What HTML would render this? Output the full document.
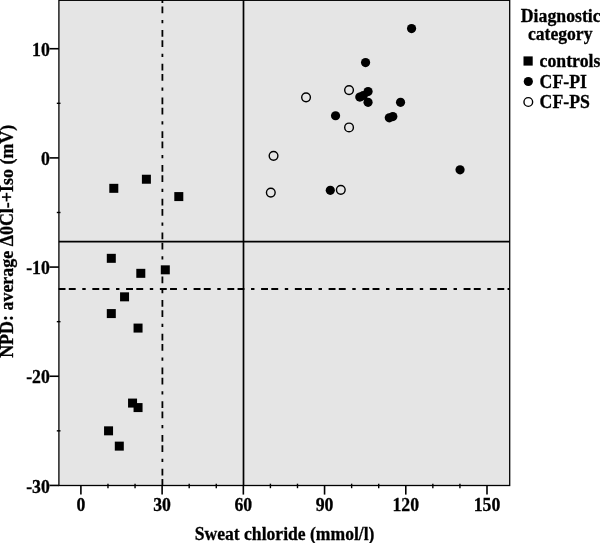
<!DOCTYPE html>
<html><head><meta charset="utf-8"><title>Scatter plot</title>
<style>
html,body{margin:0;padding:0;background:#fff;}
svg{display:block;}
text{font-family:"Liberation Serif","Times New Roman",serif;font-weight:bold;fill:#000;stroke:#000;stroke-width:0.3px;}
</style></head><body>
<svg width="600" height="543" viewBox="0 0 600 543">
<rect x="0" y="0" width="600" height="543" fill="#fff"/>
<rect x="58.9" y="0.3" width="450.8" height="485.2" fill="#e5e5e5" stroke="#000" stroke-width="1.3"/>
<line x1="243.5" y1="0.3" x2="243.5" y2="485.5" stroke="#000" stroke-width="1.7"/>
<line x1="58.9" y1="241.6" x2="509.7" y2="241.6" stroke="#000" stroke-width="1.7"/>
<line x1="58.6" y1="289.0" x2="509.7" y2="289.0" stroke="#000" stroke-width="1.8" stroke-dasharray="6.9 3.3 6.9 6.6 3.4 6.65"/>
<line x1="162.4" y1="-3.8" x2="162.4" y2="485.5" stroke="#000" stroke-width="1.8" stroke-dasharray="6.9 3.3 6.9 6.6 3.4 6.65"/>
<line x1="49.5" y1="485.43" x2="58.9" y2="485.43" stroke="#000" stroke-width="1.6"/>
<text transform="translate(49.80 492.63) scale(0.9492 1)" font-size="18.7" text-anchor="end">-30</text>
<line x1="56.8" y1="430.84" x2="60.5" y2="430.84" stroke="#000" stroke-width="1.4"/>
<line x1="49.5" y1="376.25" x2="58.9" y2="376.25" stroke="#000" stroke-width="1.6"/>
<text transform="translate(49.80 383.45) scale(0.9492 1)" font-size="18.7" text-anchor="end">-20</text>
<line x1="56.8" y1="321.66" x2="60.5" y2="321.66" stroke="#000" stroke-width="1.4"/>
<line x1="49.5" y1="267.08" x2="58.9" y2="267.08" stroke="#000" stroke-width="1.6"/>
<text transform="translate(49.80 274.28) scale(0.9492 1)" font-size="18.7" text-anchor="end">-10</text>
<line x1="56.8" y1="212.49" x2="60.5" y2="212.49" stroke="#000" stroke-width="1.4"/>
<line x1="49.5" y1="157.90" x2="58.9" y2="157.90" stroke="#000" stroke-width="1.6"/>
<text transform="translate(49.80 165.10) scale(0.9492 1)" font-size="18.7" text-anchor="end">0</text>
<line x1="56.8" y1="103.31" x2="60.5" y2="103.31" stroke="#000" stroke-width="1.4"/>
<line x1="49.5" y1="48.72" x2="58.9" y2="48.72" stroke="#000" stroke-width="1.6"/>
<text transform="translate(49.80 55.92) scale(0.9492 1)" font-size="18.7" text-anchor="end">10</text>
<line x1="80.90" y1="485.5" x2="80.90" y2="494.6" stroke="#000" stroke-width="1.6"/>
<text transform="translate(80.90 510.60) scale(0.9492 1)" font-size="18.7" text-anchor="middle">0</text>
<line x1="107.97" y1="483.7" x2="107.97" y2="488.2" stroke="#000" stroke-width="1.4"/>
<line x1="135.05" y1="483.7" x2="135.05" y2="488.2" stroke="#000" stroke-width="1.4"/>
<line x1="162.12" y1="485.5" x2="162.12" y2="494.6" stroke="#000" stroke-width="1.6"/>
<text transform="translate(162.12 510.60) scale(0.9492 1)" font-size="18.7" text-anchor="middle">30</text>
<line x1="189.19" y1="483.7" x2="189.19" y2="488.2" stroke="#000" stroke-width="1.4"/>
<line x1="216.27" y1="483.7" x2="216.27" y2="488.2" stroke="#000" stroke-width="1.4"/>
<line x1="243.34" y1="485.5" x2="243.34" y2="494.6" stroke="#000" stroke-width="1.6"/>
<text transform="translate(243.34 510.60) scale(0.9492 1)" font-size="18.7" text-anchor="middle">60</text>
<line x1="270.41" y1="483.7" x2="270.41" y2="488.2" stroke="#000" stroke-width="1.4"/>
<line x1="297.49" y1="483.7" x2="297.49" y2="488.2" stroke="#000" stroke-width="1.4"/>
<line x1="324.56" y1="485.5" x2="324.56" y2="494.6" stroke="#000" stroke-width="1.6"/>
<text transform="translate(324.56 510.60) scale(0.9492 1)" font-size="18.7" text-anchor="middle">90</text>
<line x1="351.63" y1="483.7" x2="351.63" y2="488.2" stroke="#000" stroke-width="1.4"/>
<line x1="378.71" y1="483.7" x2="378.71" y2="488.2" stroke="#000" stroke-width="1.4"/>
<line x1="405.78" y1="485.5" x2="405.78" y2="494.6" stroke="#000" stroke-width="1.6"/>
<text transform="translate(405.78 510.60) scale(0.9492 1)" font-size="18.7" text-anchor="middle">120</text>
<line x1="432.85" y1="483.7" x2="432.85" y2="488.2" stroke="#000" stroke-width="1.4"/>
<line x1="459.93" y1="483.7" x2="459.93" y2="488.2" stroke="#000" stroke-width="1.4"/>
<line x1="487.00" y1="485.5" x2="487.00" y2="494.6" stroke="#000" stroke-width="1.6"/>
<text transform="translate(487.00 510.60) scale(0.9492 1)" font-size="18.7" text-anchor="middle">150</text>
<text transform="translate(284.60 539.90) scale(0.9412 1)" font-size="18.7" text-anchor="middle">Sweat chloride (mmol/l)</text>
<text transform="translate(12.60 241.30) rotate(-90) scale(1.0028 1)" font-size="17.9" text-anchor="middle">NPD: average Δ0Cl-+Iso (mV)</text>
<rect x="109.30" y="183.83" width="9" height="9" fill="#000"/>
<rect x="141.90" y="174.73" width="9" height="9" fill="#000"/>
<rect x="174.30" y="192.08" width="9" height="9" fill="#000"/>
<rect x="106.80" y="253.83" width="9" height="9" fill="#000"/>
<rect x="136.30" y="268.83" width="9" height="9" fill="#000"/>
<rect x="160.80" y="265.33" width="9" height="9" fill="#000"/>
<rect x="120.05" y="292.33" width="9" height="9" fill="#000"/>
<rect x="106.80" y="309.08" width="9" height="9" fill="#000"/>
<rect x="133.55" y="323.58" width="9" height="9" fill="#000"/>
<rect x="128.05" y="398.58" width="9" height="9" fill="#000"/>
<rect x="133.55" y="403.08" width="9" height="9" fill="#000"/>
<rect x="104.05" y="426.33" width="9" height="9" fill="#000"/>
<rect x="114.80" y="441.63" width="9" height="9" fill="#000"/>
<circle cx="411.55" cy="28.58" r="4.6" fill="#000"/>
<circle cx="365.55" cy="62.58" r="4.6" fill="#000"/>
<circle cx="368.05" cy="91.58" r="4.6" fill="#000"/>
<circle cx="363.30" cy="95.58" r="4.6" fill="#000"/>
<circle cx="359.80" cy="97.08" r="4.6" fill="#000"/>
<circle cx="368.05" cy="102.33" r="4.6" fill="#000"/>
<circle cx="400.55" cy="102.33" r="4.6" fill="#000"/>
<circle cx="335.55" cy="115.73" r="4.6" fill="#000"/>
<circle cx="392.80" cy="116.58" r="4.6" fill="#000"/>
<circle cx="389.30" cy="117.83" r="4.6" fill="#000"/>
<circle cx="460.05" cy="169.83" r="4.6" fill="#000"/>
<circle cx="330.30" cy="190.33" r="4.6" fill="#000"/>
<circle cx="349.05" cy="90.08" r="4.35" fill="none" stroke="#000" stroke-width="1.4"/>
<circle cx="306.05" cy="97.33" r="4.35" fill="none" stroke="#000" stroke-width="1.4"/>
<circle cx="349.05" cy="127.43" r="4.35" fill="none" stroke="#000" stroke-width="1.4"/>
<circle cx="273.55" cy="155.83" r="4.35" fill="none" stroke="#000" stroke-width="1.4"/>
<circle cx="270.80" cy="192.58" r="4.35" fill="none" stroke="#000" stroke-width="1.4"/>
<circle cx="340.80" cy="189.83" r="4.35" fill="none" stroke="#000" stroke-width="1.4"/>
<text transform="translate(560.70 21.80) scale(0.9753 1)" font-size="18.2" text-anchor="middle">Diagnostic</text>
<text transform="translate(560.20 40.20) scale(0.9698 1)" font-size="18.2" text-anchor="middle">category</text>
<rect x="523.5" y="56.4" width="9.2" height="9.2" fill="#000"/>
<circle cx="528.3" cy="81.5" r="4.6" fill="#000"/>
<circle cx="528.3" cy="102" r="4.35" fill="#fff" stroke="#000" stroke-width="1.4"/>
<text transform="translate(539.60 67.30) scale(0.9543 1)" font-size="18.6">controls</text>
<text transform="translate(539.60 87.90) scale(0.9543 1)" font-size="18.6">CF-PI</text>
<text transform="translate(539.60 108.30) scale(0.9543 1)" font-size="18.6">CF-PS</text>
</svg>
</body></html>
